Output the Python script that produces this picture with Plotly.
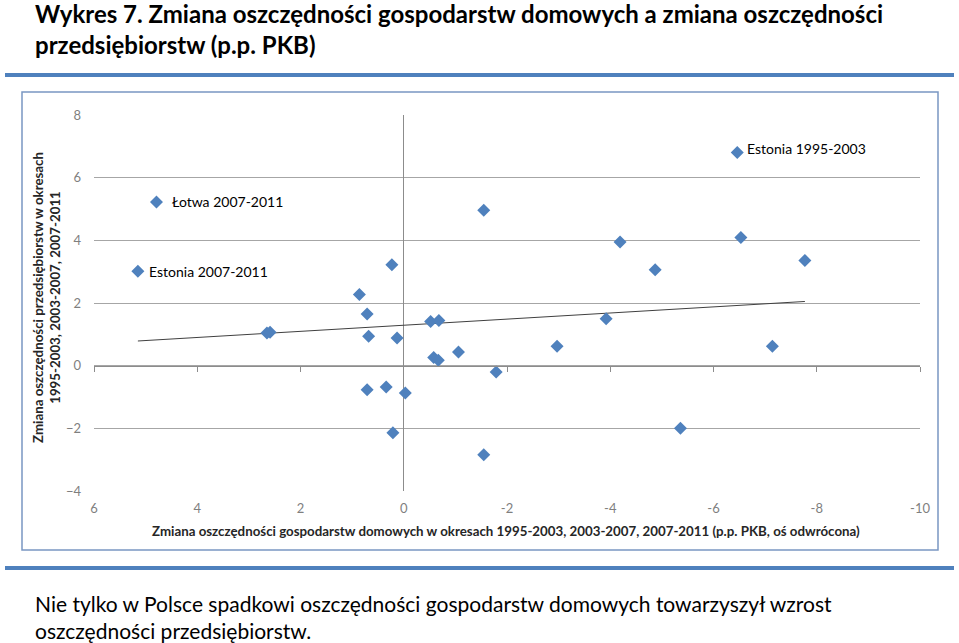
import numpy as np
import plotly.graph_objects as go

# ---- data ----
hh_change = [4.79, 5.15, -6.46, 0.23, 0.86, 0.71, 2.65, 2.59, 0.68, 0.13,
             -0.52, -0.68, -1.55, -4.19, -4.87, -6.53, -7.77, -3.92, -2.97, -7.14,
             -1.06, -0.58, -0.67, 0.71, 0.34, -0.03, 0.21, -1.55, -1.79, -5.36]
corp_change = [5.22, 3.01, 6.80, 3.22, 2.27, 1.65, 1.04, 1.07, 0.94, 0.88,
               1.41, 1.44, 4.96, 3.95, 3.06, 4.09, 3.36, 1.50, 0.62, 0.62,
               0.44, 0.26, 0.17, -0.77, -0.68, -0.87, -2.14, -2.84, -0.20, -2.00]
labels = ["Łotwa 2007-2011", "Estonia 2007-2011", "Estonia 1995-2003"] + [""] * 27

x_ticks = [6, 4, 2, 0, -2, -4, -6, -8, -10]
y_ticks = [-4, -2, 0, 2, 4, 6, 8]

title_text = ("Wykres 7. Zmiana oszczędności gospodarstw domowych a zmiana oszczędności"
              "<br>przedsiębiorstw (p.p. PKB)")
x_title = ("Zmiana oszczędności gospodarstw domowych w okresach 1995-2003, 2003-2007, "
           "2007-2011 (p.p. PKB, oś odwrócona)")
y_title = "Zmiana oszczędności przedsiębiorstw w okresach<br>1995-2003, 2003-2007, 2007-2011"
note_text = ("Nie tylko w Polsce spadkowi oszczędności gospodarstw domowych towarzyszył wzrost"
             "<br>oszczędności przedsiębiorstw.")

FONT = "Lato"
W, H = 959, 643
L, R, T, B = 94, 920, 115, 491  # plot area in pixels


def px_x(p):
    return (p - L) / (R - L)


def px_y(p):
    return (B - p) / (B - T)


# linear trend
slope, intercept = np.polyfit(hh_change, corp_change, 1)
tx = np.array([min(hh_change), max(hh_change)])
ty = slope * tx + intercept

fig = go.Figure()
fig.add_trace(go.Scatter(x=tx, y=ty, mode="lines",
                         line=dict(color="#404040", width=1), hoverinfo="skip",
                         showlegend=False))
fig.add_trace(go.Scatter(x=hh_change, y=corp_change, mode="markers",
                         marker=dict(symbol="diamond", size=10, color="#4F81BD",
                                     line=dict(width=0)),
                         showlegend=False))
# axis line with ticks at y = 0 (overlay axis)
fig.add_trace(go.Scatter(x=[x_ticks[0]], y=[0], xaxis="x2", mode="markers",
                         marker=dict(opacity=0), showlegend=False, hoverinfo="skip"))

shifts = [14, 9, 8]
yshifts = [1, 0, 4]
for i, lab in enumerate(labels):
    if lab:
        fig.add_annotation(x=hh_change[i], y=corp_change[i], text=lab, showarrow=False,
                           xanchor="left", yanchor="middle", xshift=shifts[i],
                           yshift=yshifts[i],
                           font=dict(family=FONT, size=14, color="#000000"))

grid_c = "#A6A6A6"
fig.update_layout(
    width=W, height=H,
    margin=dict(l=L, r=W - R, t=T, b=H - B),
    paper_bgcolor="white", plot_bgcolor="white",
    font=dict(family=FONT),
    xaxis=dict(range=[6, -10], tickvals=x_ticks, ticktext=[str(v) for v in x_ticks],
               showgrid=False, zeroline=True, zerolinecolor="#8C8C8C", zerolinewidth=1,
               showline=False, ticks="", tickfont=dict(family=FONT, size=13, color="#7F7F7F"),
               ticklabelstandoff=8),
    xaxis2=dict(range=[6, -10], tickvals=x_ticks, overlaying="x", anchor="free",
                position=1 / 3, showgrid=False, zeroline=False, showline=True,
                linecolor="#8C8C8C", linewidth=1, ticks="outside", ticklen=5,
                tickcolor="#8C8C8C", showticklabels=False),
    yaxis=dict(range=[-4, 8], tickvals=y_ticks, showgrid=True, gridcolor=grid_c,
               gridwidth=1, zeroline=False, showline=False, ticks="",
               tickfont=dict(family=FONT, size=13, color="#7F7F7F"),
               ticklabelstandoff=12),
)

annos = [
    dict(x=px_x(33), y=px_y(29), text=title_text, xanchor="left", yanchor="middle",
         align="left", font=dict(family=FONT, size=24, color="#000000", weight="bold")),
    dict(x=px_x(33), y=px_y(617), text=note_text, xanchor="left", yanchor="middle",
         align="left", font=dict(family=FONT, size=21, color="#000000")),
    dict(x=px_x(506), y=px_y(531), text=x_title, xanchor="center", yanchor="middle",
         font=dict(family=FONT, size=13.3, color="#262626", weight="bold")),
    dict(x=px_x(46), y=px_y(298), text=y_title, xanchor="center", yanchor="middle",
         textangle=-90, font=dict(family=FONT, size=13.3, color="#262626", weight="bold")),
]
for a in annos:
    fig.add_annotation(xref="paper", yref="paper", showarrow=False, **a)

# decorative frame and rules
fig.add_shape(type="rect", xref="paper", yref="paper", x0=px_x(22), x1=px_x(938),
              y0=px_y(550), y1=px_y(92), line=dict(color="#7A97C2", width=1.5),
              layer="below")
for ry in (75, 568):
    fig.add_shape(type="line", xref="paper", yref="paper", x0=px_x(5), x1=px_x(954),
                  y0=px_y(ry), y1=px_y(ry), line=dict(color="#4F81BD", width=4))

fig.write_html("out.html",
               config={"displayModeBar": False},
               post_script="document.body.style.margin='0px';"
                           "document.body.style.overflow='hidden';")
